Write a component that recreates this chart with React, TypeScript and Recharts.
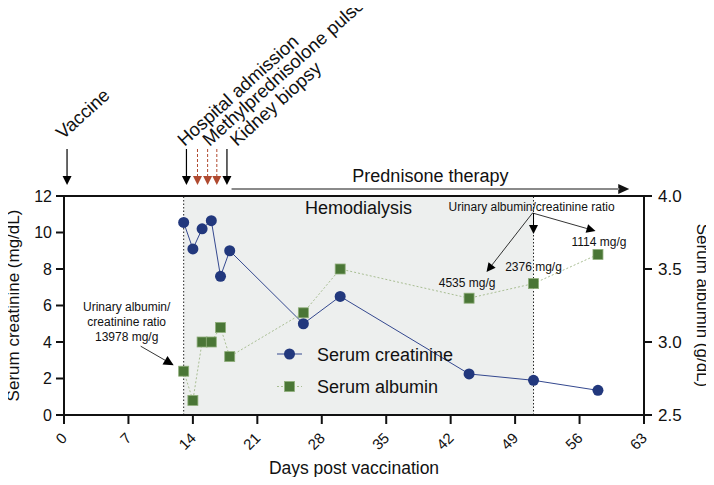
import React from "react";
import {
  ComposedChart,
  Line,
  XAxis,
  YAxis,
  Legend,
  ReferenceArea,
  ReferenceLine,
  ReferenceDot,
} from "recharts";

const FONT = "'Liberation Sans', Arial, Helvetica, sans-serif";

// measurements (days post vaccination)
const days = [13, 14, 15, 16, 17, 18, 26, 30, 44, 51, 58];
const creatinine = [10.55, 9.1, 10.2, 10.65, 7.6, 9.0, 5.0, 6.5, 2.25, 1.9, 1.35];
const albumin = [2.8, 2.6, 3.0, 3.0, 3.1, 2.9, 3.2, 3.5, 3.3, 3.4, 3.6];

const dayTicks = [0, 7, 14, 21, 28, 35, 42, 49, 56, 63];
const creatinineTicks = [0, 2, 4, 6, 8, 10, 12];
const albuminTicks = [2.5, 3.0, 3.5, 4.0];

// clinical events
const eventDays = [0.33, 13.3, 17.7];
const eventLabels = ["Vaccine", "Hospital admission", "Kidney biopsy"];
const pulseDays = [14.5, 15.6, 16.6];
const pulseLabel = "Methylprednisolone pulse";
const dialysisDays = [13, 51];
const prednisoneDays = [18.2, 61.4];

// urinary albumin/creatinine ratio
const uacrDays = [13, 44, 51, 58];
const uacrValues = ["13978 mg/g", "4535 mg/g", "2376 mg/g", "1114 mg/g"];

const data = days.map((d, i) => ({
  day: d,
  creatinine: creatinine[i],
  albumin: albumin[i],
}));

const BLUE = "#22387d";
const GREEN = "#4a7636";
const RUST = "#b0492f";

const Arrow = ({ x1, y1, x2, y2, color = "#000", width = 1, dash, head = 9, half = 4.5 }: any) => {
  const a = Math.atan2(y2 - y1, x2 - x1);
  const bx = x2 - head * Math.cos(a);
  const by = y2 - head * Math.sin(a);
  const px = -Math.sin(a) * half;
  const py = Math.cos(a) * half;
  return (
    <g>
      <line x1={x1} y1={y1} x2={bx} y2={by} stroke={color} strokeWidth={width} strokeDasharray={dash} />
      <polygon points={`${x2},${y2} ${bx + px},${by + py} ${bx - px},${by - py}`} fill={color} />
    </g>
  );
};

const labelOffsets = [
  { dx: -4, dy: -56 },
  { dx: -2, dy: -49 },
  { dx: 10, dy: -49 },
];

const eventMark = (i: number) => (p: any) => {
  const { x, y } = p.viewBox;
  const o = labelOffsets[i];
  return (
    <g>
      <Arrow x1={x} y1={y - 47} x2={x} y2={y - 11} width={1.2} />
      <text transform={`translate(${x + o.dx},${y + o.dy}) rotate(-42)`} fontSize={18.5} fontFamily={FONT} fill="#111">
        {eventLabels[i]}
      </text>
    </g>
  );
};

const pulseMark = (i: number) => (p: any) => {
  const { x, y } = p.viewBox;
  return (
    <g>
      <Arrow x1={x} y1={y - 47} x2={x} y2={y - 11} color={RUST} dash="3 2" />
      {i === 0 && (
        <text transform={`translate(${x + 12},${y - 49}) rotate(-42)`} fontSize={18.5} fontFamily={FONT} fill="#111">
          {pulseLabel}
        </text>
      )}
    </g>
  );
};

const prednisoneMark = (p: any) => {
  const { x, y, width } = p.viewBox;
  return (
    <g>
      <Arrow x1={x} y1={y - 7} x2={x + width} y2={y - 7} color="#111" width={0} head={11} half={5} />
      <line x1={x} y1={y - 7} x2={x + width - 10} y2={y - 7} stroke="#8a8a8a" strokeWidth={2} />
      <text x={x + width / 2} y={y - 14} textAnchor="middle" fontSize={18} fontFamily={FONT} fill="#111">
        Prednisone therapy
      </text>
    </g>
  );
};

const dialysisMark = (p: any) => {
  const { x, y, width } = p.viewBox;
  return (
    <text x={x + width / 2} y={y + 18} textAnchor="middle" fontSize={18} fontFamily={FONT} fill="#111">
      Hemodialysis
    </text>
  );
};

const uacrHeader = (p: any) => {
  const { x, y } = p.viewBox;
  const ox = x - 1;
  const oy = y + 17;
  return (
    <g>
      <text x={x - 2} y={y + 15} textAnchor="middle" fontSize={12} fontFamily={FONT} fill="#111">
        Urinary albumin/creatinine ratio
      </text>
      <Arrow x1={ox} y1={oy} x2={x - 47} y2={y + 76} width={0.8} head={9} half={4.5} />
      <Arrow x1={ox} y1={oy} x2={x + 62} y2={y + 35} width={0.8} head={9} half={4.5} />
      <Arrow x1={x} y1={oy} x2={x} y2={y + 38} width={1} head={9} half={4.5} />
    </g>
  );
};

const uacrOffsets = [null, { dx: -2, dy: -11 }, { dx: 0, dy: -13 }, { dx: 1, dy: -8 }];

const uacrLabel = (i: number) => (p: any) => {
  const { x, y } = p.viewBox;
  if (i === 0) {
    return (
      <g>
        <text x={x - 57} y={y - 60} textAnchor="middle" fontSize={12} fontFamily={FONT} fill="#111">
          <tspan x={x - 57}>Urinary albumin/</tspan>
          <tspan x={x - 57} dy={15}>creatinine ratio</tspan>
          <tspan x={x - 57} dy={14.5}>{uacrValues[0]}</tspan>
        </text>
        <Arrow x1={x - 43} y1={y - 25} x2={x - 10} y2={y - 6} width={0.8} head={10} half={5} />
      </g>
    );
  }
  const o = uacrOffsets[i]!;
  return (
    <text x={x + o.dx} y={y + o.dy} textAnchor="middle" fontSize={12} fontFamily={FONT} fill="#111">
      {uacrValues[i]}
    </text>
  );
};

const SquareDot = (props: any) => {
  const { cx, cy, index } = props;
  if (cx == null || cy == null) return null;
  return <rect key={`sq-${index}`} x={cx - 5} y={cy - 5} width={10} height={10} fill={GREEN} stroke="#8fae7b" strokeWidth={0.8} />;
};

const DayTick = (props: any) => {
  const { x, y, payload } = props;
  return (
    <text transform={`translate(${x + 4},${y + 13}) rotate(-45)`} textAnchor="end" fontSize={15} fontFamily={FONT} fill="#111">
      {payload.value}
    </text>
  );
};

const renderLegend = () => (
  <svg width={230} height={64}>
    <line x1={7} y1={16} x2={32} y2={16} stroke="#34488f" strokeWidth={1} />
    <circle cx={19.5} cy={16} r={5.5} fill={BLUE} />
    <text x={47} y={22.5} fontSize={18} fontFamily={FONT} fill="#111">Serum creatinine</text>
    <line x1={7} y1={48.5} x2={32} y2={48.5} stroke="#a9be93" strokeWidth={1} strokeDasharray="2 2" />
    <rect x={14.5} y={43.5} width={10} height={10} fill={GREEN} stroke="#8fae7b" strokeWidth={0.8} />
    <text x={47} y={55} fontSize={18} fontFamily={FONT} fill="#111">Serum albumin</text>
  </svg>
);

const axisStroke = { stroke: "#111", strokeWidth: 2 };

export default function App() {
  return (
    <div style={{ margin: -8 }}>
      <ComposedChart width={714} height={485} data={data} margin={{ top: 196, right: 0, bottom: 0, left: 0 }}>
        <XAxis
          dataKey="day"
          type="number"
          domain={[0, 63]}
          ticks={dayTicks}
          interval={0}
          tickSize={9}
          height={70}
          axisLine={axisStroke}
          tickLine={axisStroke}
          tick={<DayTick />}
          label={{
            content: (p: any) => {
              const vb = p.viewBox;
              return (
                <text x={vb.x + vb.width / 2} y={vb.y + 59} textAnchor="middle" fontSize={17.5} fontFamily={FONT} fill="#111">
                  Days post vaccination
                </text>
              );
            },
          }}
        />
        <YAxis
          yAxisId="left"
          domain={[0, 12]}
          ticks={creatinineTicks}
          interval={0}
          width={64}
          tickSize={8}
          tickMargin={4}
          axisLine={axisStroke}
          tickLine={axisStroke}
          tick={{ fontSize: 16, fill: "#111", fontFamily: FONT }}
          label={{
            content: (p: any) => {
              const vb = p.viewBox;
              return (
                <text transform={`translate(${vb.x + 19},${vb.y + vb.height / 2}) rotate(-90)`} textAnchor="middle" fontSize={17} fontFamily={FONT} fill="#111">
                  Serum creatinine (mg/dL)
                </text>
              );
            },
          }}
        />
        <YAxis
          yAxisId="right"
          orientation="right"
          domain={[2.5, 4.0]}
          ticks={albuminTicks}
          interval={0}
          width={70}
          tickSize={8}
          tickMargin={6}
          axisLine={axisStroke}
          tickLine={axisStroke}
          tickFormatter={(v: number) => v.toFixed(1)}
          tick={{ fontSize: 17, fill: "#111", fontFamily: FONT }}
          label={{
            content: (p: any) => {
              const vb = p.viewBox;
              return (
                <text transform={`translate(${vb.x + 53},${vb.y + vb.height / 2}) rotate(90)`} textAnchor="middle" fontSize={17} fontFamily={FONT} fill="#111">
                  Serum albumin (g/dL)
                </text>
              );
            },
          }}
        />

        <ReferenceArea yAxisId="left" x1={dialysisDays[0]} x2={dialysisDays[1]} fill="#edefee" fillOpacity={1} stroke="none" label={dialysisMark} />
        <ReferenceArea yAxisId="left" x1={prednisoneDays[0]} x2={prednisoneDays[1]} fill="none" fillOpacity={0} stroke="none" label={prednisoneMark} />
        <ReferenceLine yAxisId="left" y={12} stroke="#111" strokeWidth={2} />
        <ReferenceLine yAxisId="left" x={dialysisDays[0]} stroke="#222" strokeDasharray="1.5 2" />
        <ReferenceLine yAxisId="left" x={dialysisDays[1]} stroke="#222" strokeDasharray="1.5 2" label={uacrHeader} />

        {eventDays.map((d, i) => (
          <ReferenceLine key={`ev-${i}`} yAxisId="left" x={d} stroke="none" label={eventMark(i)} />
        ))}
        {pulseDays.map((d, i) => (
          <ReferenceLine key={`pu-${i}`} yAxisId="left" x={d} stroke="none" label={pulseMark(i)} />
        ))}

        <Line
          yAxisId="left"
          dataKey="creatinine"
          name="Serum creatinine"
          stroke="#34488f"
          strokeWidth={1}
          dot={{ r: 5.5, fill: BLUE, stroke: BLUE, strokeWidth: 0 }}
          isAnimationActive={false}
        />
        <Line
          yAxisId="right"
          dataKey="albumin"
          name="Serum albumin"
          stroke="#a9be93"
          strokeWidth={1}
          strokeDasharray="2 2"
          dot={<SquareDot />}
          isAnimationActive={false}
        />

        {uacrDays.map((d, i) => (
          <ReferenceDot key={`ua-${i}`} yAxisId="right" x={d} y={albumin[days.indexOf(d)]} r={0} fill="none" stroke="none" label={uacrLabel(i)} />
        ))}

        <Legend layout="vertical" align="center" verticalAlign="middle" wrapperStyle={{ left: 270, top: 338, width: 230, height: 64 }} content={renderLegend} />
      </ComposedChart>
    </div>
  );
}
